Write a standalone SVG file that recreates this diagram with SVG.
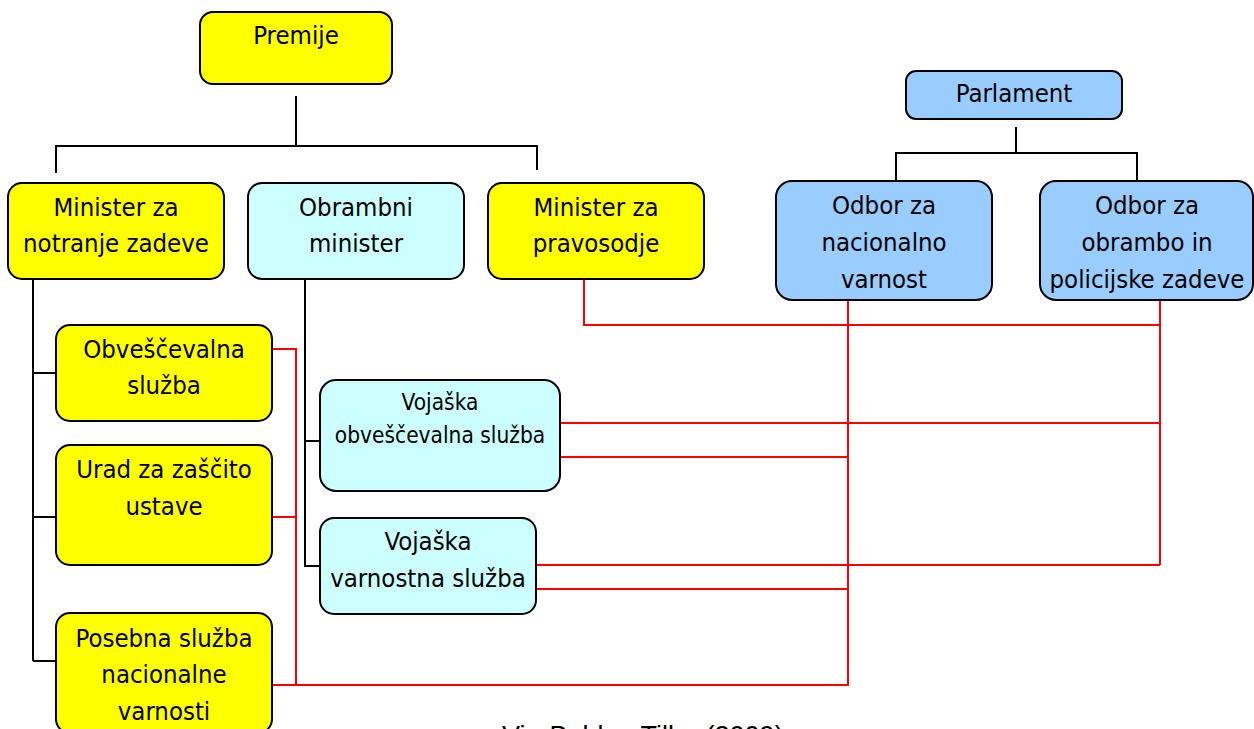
<svg xmlns="http://www.w3.org/2000/svg" width="1254" height="729" viewBox="0 0 1254 729">
<style>
.box{stroke:#000;stroke-width:2}
.y{fill:#FFFF00}
.c{fill:#CCFFFF}
.b{fill:#99CCFF}
.t{font-family:"DejaVu Sans Condensed","DejaVu Sans",sans-serif;font-stretch:condensed;font-size:25.5px;fill:#000;text-anchor:middle}
.s{font-size:22.5px}
.k{fill:none;stroke:#000;stroke-width:2}
.r{fill:none;stroke:#FF0000;stroke-width:2}
</style>
<rect width="1254" height="729" fill="#fff"/>
<g id="connectors">
<path class="k" d="M296,96 V146 M56,173 V146 H537 V170"/>
<path class="k" d="M1016,127 V153 M896,181 V153 H1137 V181"/>
<path class="k" d="M33,279 V661 M33,373 H56 M33,517 H56 M33,661 H56"/>
<path class="k" d="M305,279 V566 H320 M305,441 H320"/>
<path class="r" d="M584,279 V325 H1160"/>
<path class="r" d="M1160,300 V565"/>
<path class="r" d="M848,300 V685 H272"/>
<path class="r" d="M272,349 H296 V685 M272,517 H296"/>
<path class="r" d="M560,423 H1160 M560,457 H848"/>
<path class="r" d="M536,565 H1160 M536,589 H848"/>
</g>
<g id="premije"><rect class="box y" x="200" y="12" width="192" height="72" rx="13"/><text class="t" x="296" y="44">Premije</text></g>
<g id="minister-notranje"><rect class="box y" x="8" y="183" width="216" height="96" rx="14"/><text class="t" x="116" y="216">Minister za</text><text class="t" x="116" y="252">notranje zadeve</text></g>
<g id="obrambni-minister"><rect class="box c" x="248" y="183" width="216" height="96" rx="14"/><text class="t" x="356" y="216">Obrambni</text><text class="t" x="356" y="252">minister</text></g>
<g id="minister-pravosodje"><rect class="box y" x="488" y="183" width="216" height="96" rx="14"/><text class="t" x="596" y="216">Minister za</text><text class="t" x="596" y="252">pravosodje</text></g>
<g id="parlament"><rect class="box b" x="906" y="71" width="216" height="48" rx="10"/><text class="t" x="1014" y="102">Parlament</text></g>
<g id="odbor-nacionalno"><rect class="box b" x="776" y="181" width="216" height="119" rx="16"/><text class="t" x="884" y="214">Odbor za</text><text class="t" x="884" y="251">nacionalno</text><text class="t" x="884" y="288">varnost</text></g>
<g id="odbor-obrambo"><rect class="box b" x="1040" y="181" width="213" height="119" rx="16"/><text class="t" x="1147" y="214">Odbor za</text><text class="t" x="1147" y="251">obrambo in</text><text class="t" x="1147" y="288">policijske zadeve</text></g>
<g id="obvescevalna"><rect class="box y" x="56" y="325" width="216" height="96" rx="14"/><text class="t" x="164" y="358">Obveščevalna</text><text class="t" x="164" y="394">služba</text></g>
<g id="urad"><rect class="box y" x="56" y="445" width="216" height="120" rx="14"/><text class="t" x="164" y="478">Urad za zaščito</text><text class="t" x="164" y="515">ustave</text></g>
<g id="posebna"><rect class="box y" x="56" y="613" width="216" height="120" rx="14"/><text class="t" x="164" y="647">Posebna služba</text><text class="t" x="164" y="683">nacionalne</text><text class="t" x="164" y="720">varnosti</text></g>
<g id="vojaska-obvescevalna"><rect class="box c" x="320" y="380" width="240" height="111" rx="16"/><text class="t s" x="440" y="410">Vojaška</text><text class="t s" x="440" y="443">obveščevalna služba</text></g>
<g id="vojaska-varnostna"><rect class="box c" x="320" y="518" width="216" height="96" rx="14"/><text class="t" x="428" y="550">Vojaška</text><text class="t" x="428" y="587">varnostna služba</text></g>
<text x="502" y="745" font-family="'Liberation Sans',Arial,sans-serif" font-size="27" fill="#000">Vir: Bebler, Tiller (2009)</text>
</svg>
